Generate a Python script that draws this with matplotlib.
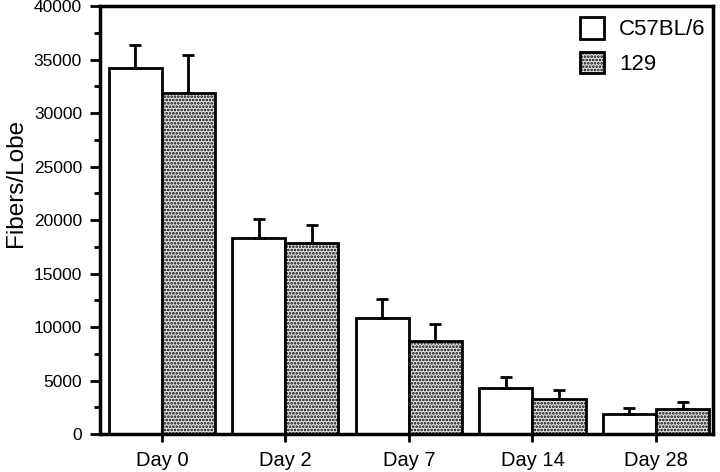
import matplotlib
matplotlib.use("Agg")
import matplotlib.pyplot as plt
import numpy as np

plt.rcParams['font.family'] = ['Liberation Sans', 'DejaVu Sans']
plt.rcParams['hatch.linewidth'] = 1.3

# data
days = ["Day 0", "Day 2", "Day 7", "Day 14", "Day 28"]
c57 = [34200, 18300, 10800, 4300, 1900]
c57_err = [2200, 1800, 1800, 1000, 500]
s129 = [31900, 17900, 8700, 3300, 2300]
s129_err = [3500, 1600, 1600, 800, 700]

x = np.arange(len(days))
w = 0.43

fig = plt.figure(figsize=(7.2, 4.72), dpi=100)
ax = fig.add_axes([0.139, 0.0805, 0.851, 0.9065])

ax.bar(x - w / 2, c57, w, color='white', edgecolor='black', linewidth=2,
       yerr=[np.zeros(len(c57)), c57_err], error_kw=dict(elinewidth=2, capsize=4, capthick=2),
       label='C57BL/6', zorder=2)
ax.bar(x + w / 2, s129, w, color='#e8e8e8', edgecolor='black', linewidth=2, hatch='.....',
       yerr=[np.zeros(len(s129)), s129_err], error_kw=dict(elinewidth=2, capsize=4, capthick=2),
       label='129', zorder=2)

ax.set_xlim(-0.5, 4.46)
ax.set_ylim(0, 40000)
ax.set_yticks(np.arange(0, 40001, 5000))
ax.set_yticks(np.arange(0, 40001, 2500), minor=True)
ax.set_xticks(x)
ax.set_xticklabels(days, fontsize=14.5)
ax.tick_params(axis='y', which='major', labelsize=12.5, width=2, length=7, pad=6)
ax.tick_params(axis='y', which='minor', width=2, length=4)
ax.tick_params(axis='x', width=2, length=6, pad=6)
ax.set_ylabel('Fibers/Lobe', fontsize=17.5)
ax.yaxis.set_label_coords(-0.12, 0.586)

for s in ax.spines.values():
    s.set_linewidth(2.5)

leg = ax.legend(loc='upper right', bbox_to_anchor=(1.0065, 1.0), frameon=False,
                fontsize=16, handlelength=1.08, handleheight=1.1, borderaxespad=0.1,
                borderpad=0.4, labelspacing=0.5, handletextpad=0.68)

fig.savefig("out.png", dpi=100)
